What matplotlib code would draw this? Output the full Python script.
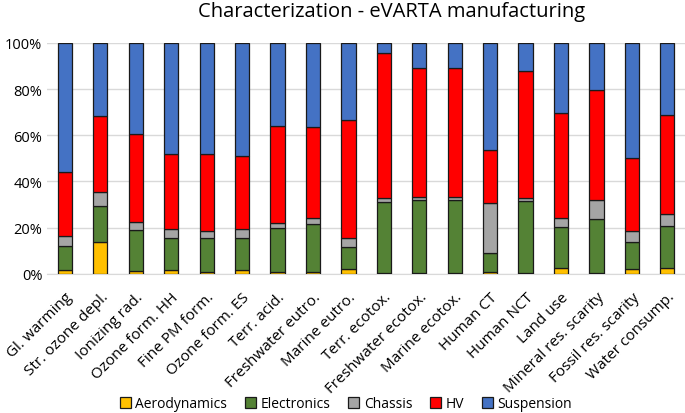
import numpy as np
import matplotlib.pyplot as plt
from matplotlib.ticker import PercentFormatter

plt.rcParams['font.family'] = ['Open Sans', 'DejaVu Sans']

# categorias de impacto
categories = ["Gl. warming", "Str. ozone depl.", "Ionizing rad.", "Ozone form. HH",
              "Fine PM form.", "Ozone form. ES", "Terr. acid.", "Freshwater eutro.",
              "Marine eutro.", "Terr. ecotox.", "Freshwater ecotox.", "Marine ecotox.",
              "Human CT", "Human NCT", "Land use", "Mineral res. scarity",
              "Fossil res. scarity", "Water consump."]

# valores acumulados (%)
cum_aero = [1.7, 14.0, 1.2, 1.7, 0.9, 1.7, 0.9, 0.9, 2.0, 0.2, 0.2, 0.2, 0.7, 0.2, 2.6, 0.2, 2.3, 2.6]
cum_elec = [12.0, 29.4, 19.0, 15.7, 15.6, 15.6, 19.8, 21.5, 11.8, 31.3, 32.0, 32.0, 8.9, 31.7, 20.1, 23.7, 13.9, 20.6]
cum_chas = [16.2, 35.6, 22.4, 19.5, 18.6, 19.5, 21.9, 24.2, 15.6, 32.9, 33.3, 33.5, 30.9, 32.9, 24.4, 31.9, 18.6, 26.0]
cum_hv = [44.0, 68.5, 60.5, 51.7, 51.8, 51.2, 63.9, 63.5, 66.7, 95.8, 89.3, 89.3, 53.5, 87.7, 69.7, 79.5, 50.1, 68.8]

aero = np.array(cum_aero)
elec = np.array(cum_elec) - np.array(cum_aero)
chas = np.array(cum_chas) - np.array(cum_elec)
hv = np.array(cum_hv) - np.array(cum_chas)
susp = 100 - np.array(cum_hv)

series = [("Aerodynamics", aero, "#FFC000"),
          ("Electronics", elec, "#548235"),
          ("Chassis", chas, "#A5A5A5"),
          ("HV", hv, "#FF0000"),
          ("Suspension", susp, "#4472C4")]

fig = plt.figure(figsize=(6.85, 4.14), dpi=100)
ax = fig.add_axes([0.069, 0.336, 0.931, 0.558])

x = np.arange(len(categories))
bottom = np.zeros(len(categories))
for name, vals, color in series:
    ax.bar(x, vals, 0.4, bottom=bottom, color=color, edgecolor="#1a1a1a",
           linewidth=0.9, label=name, zorder=3)
    bottom = bottom + vals

ax.set_xlim(-0.5, len(categories) - 0.5)
ax.set_ylim(0, 100)
ax.set_yticks(np.arange(0, 101, 20))
ax.yaxis.set_major_formatter(PercentFormatter(decimals=0))
ax.grid(axis="y", color="#d9d9d9", linewidth=1, zorder=0)
for s in ["top", "right", "left"]:
    ax.spines[s].set_visible(False)
ax.spines["bottom"].set_color("#d9d9d9")
ax.tick_params(axis="both", length=0, labelsize=10.5)
ax.set_xticks(x)
ax.set_xticklabels(categories, rotation=45, ha="right", rotation_mode="anchor", fontsize=11)
ax.tick_params(axis="x", pad=11)

fig.suptitle("Characterization - eVARTA manufacturing", x=0.572, y=0.995, fontsize=14.5)
fig.legend(loc="lower center", ncol=5, frameon=False, fontsize=10,
           bbox_to_anchor=(0.505, -0.018), borderpad=0.15, handlelength=0.8,
           handleheight=0.8, handletextpad=0.3, columnspacing=1.3)

fig.savefig("out.png", dpi=100)
